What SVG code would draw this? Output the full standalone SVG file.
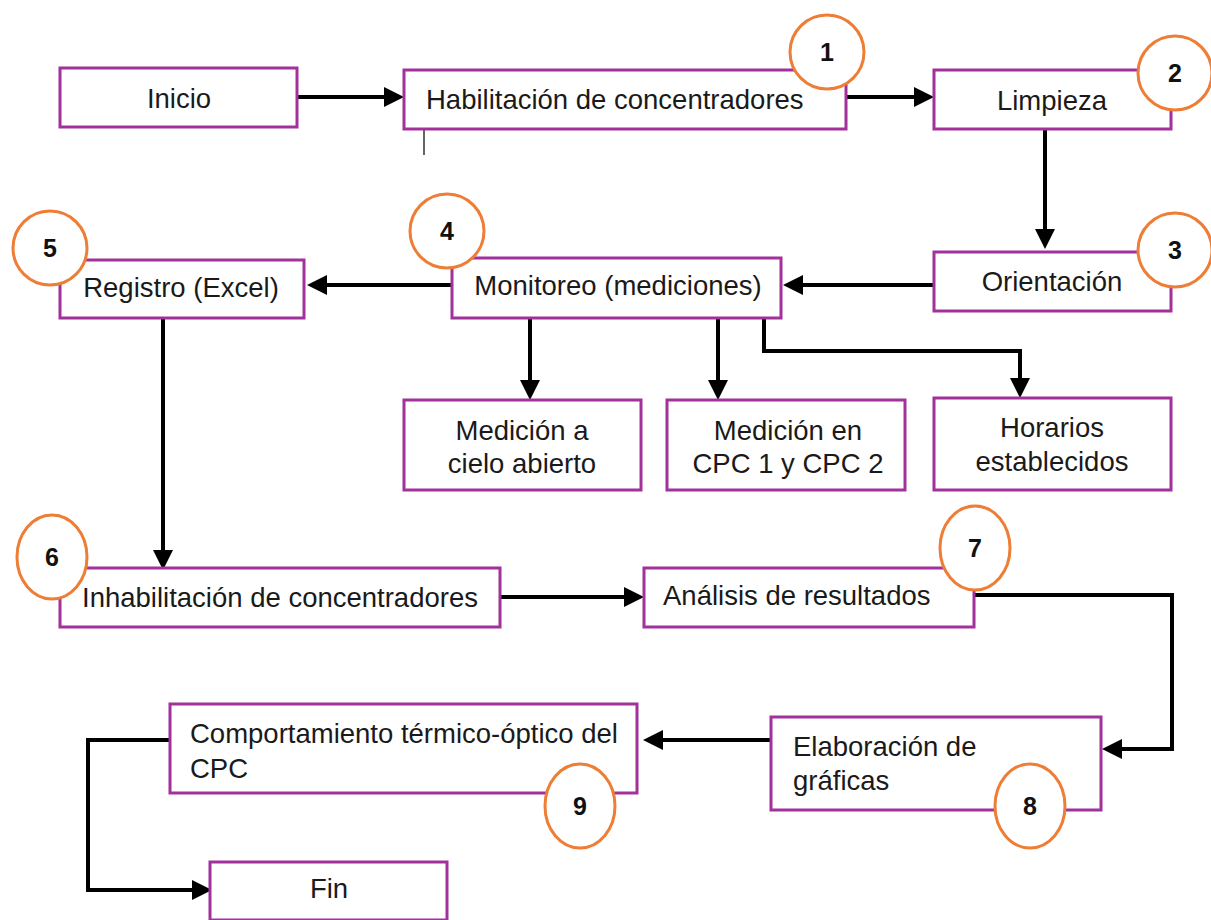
<svg xmlns="http://www.w3.org/2000/svg" width="1211" height="920" viewBox="0 0 1211 920">
<style>
.box{fill:#fff;stroke:#a2319c;stroke-width:3}
.t{font-family:"Liberation Sans",Arial,sans-serif;font-size:27.5px;fill:#1a1a1a}
.m{text-anchor:middle}
.c{fill:#fff;stroke:#ee7d35;stroke-width:3}
.n{font-family:"Liberation Sans",Arial,sans-serif;font-size:25px;font-weight:bold;fill:#111;text-anchor:middle}
.e{fill:none;stroke:#000;stroke-width:4;marker-end:url(#ah)}
</style>
<defs>
<marker id="ah" markerWidth="5" markerHeight="5" refX="4" refY="2.5" orient="auto" markerUnits="strokeWidth">
<path d="M0,0 L5,2.5 L0,5 Z" fill="#000"/>
</marker>
</defs>
<rect width="1211" height="920" fill="#fff"/>
<g id="connectors">
<path class="e" d="M297,97 H400"/>
<path class="e" d="M846,97 H930"/>
<path class="e" d="M1045,129 V245"/>
<path class="e" d="M934,285 H787"/>
<path class="e" d="M452,285 H311"/>
<path class="e" d="M530,318 V396"/>
<path class="e" d="M718,318 V396"/>
<path class="e" d="M764,318 V351 H1020 V394"/>
<path class="e" d="M163,318 V566"/>
<path class="e" d="M500,597 H640"/>
<path class="e" d="M974,595 H1172 V749 H1106"/>
<path class="e" d="M771,740 H647"/>
<path class="e" d="M170,740 H88 V890 H208"/>
<line x1="424" y1="123" x2="424" y2="155" stroke="#000" stroke-width="1.2"/>
</g>
<g id="inicio"><rect class="box" x="60" y="68" width="237" height="59"/><text class="t m" x="179" y="108">Inicio</text></g>
<g id="habilitacion"><rect class="box" x="404" y="70" width="442" height="59"/><text class="t" x="426" y="109">Habilitación de concentradores</text>
<circle class="c" cx="827" cy="52" r="37"/><text class="n" x="827" y="61">1</text></g>
<g id="limpieza"><rect class="box" x="934" y="70" width="237" height="59"/><text class="t m" x="1052" y="110">Limpieza</text>
<circle class="c" cx="1175" cy="73" r="37"/><text class="n" x="1175" y="82">2</text></g>
<g id="orientacion"><rect class="box" x="934" y="252" width="237" height="59"/><text class="t m" x="1052" y="291">Orientación</text>
<circle class="c" cx="1175" cy="250" r="37"/><text class="n" x="1175" y="259">3</text></g>
<g id="monitoreo"><rect class="box" x="452" y="258" width="329" height="60"/><text class="t m" x="618" y="295">Monitoreo (mediciones)</text>
<circle class="c" cx="447" cy="231" r="37"/><text class="n" x="447" y="240">4</text></g>
<g id="registro"><rect class="box" x="60" y="260" width="244" height="58"/><text class="t m" x="181" y="297">Registro (Excel)</text>
<circle class="c" cx="50" cy="248" r="37"/><text class="n" x="50" y="257">5</text></g>
<g id="medicion-cielo"><rect class="box" x="404" y="400" width="237" height="90"/><text class="t m" x="522" y="440">Medición a</text><text class="t m" x="522" y="473">cielo abierto</text></g>
<g id="medicion-cpc"><rect class="box" x="667" y="400" width="238" height="90"/><text class="t m" x="788" y="440">Medición en</text><text class="t m" x="788" y="473">CPC 1 y CPC 2</text></g>
<g id="horarios"><rect class="box" x="934" y="398" width="237" height="92"/><text class="t m" x="1052" y="437">Horarios</text><text class="t m" x="1052" y="471">establecidos</text></g>
<g id="inhabilitacion"><rect class="box" x="60" y="568" width="440" height="59"/><text class="t" x="82" y="607">Inhabilitación de concentradores</text>
<ellipse class="c" cx="52" cy="557" rx="35" ry="42"/><text class="n" x="52" y="566">6</text></g>
<g id="analisis"><rect class="box" x="644" y="568" width="330" height="59"/><text class="t" x="663" y="605">Análisis de resultados</text>
<ellipse class="c" cx="975" cy="548" rx="35" ry="42"/><text class="n" x="975" y="557">7</text></g>
<g id="elaboracion"><rect class="box" x="771" y="717" width="330" height="93"/><text class="t" x="793" y="756">Elaboración de</text><text class="t" x="793" y="790">gráficas</text>
<ellipse class="c" cx="1030" cy="806" rx="35" ry="42"/><text class="n" x="1030" y="815">8</text></g>
<g id="comportamiento"><rect class="box" x="170" y="704" width="467" height="89"/><text class="t" x="190" y="743">Comportamiento térmico-óptico del</text><text class="t" x="190" y="778">CPC</text>
<ellipse class="c" cx="580" cy="806" rx="35" ry="42"/><text class="n" x="580" y="815">9</text></g>
<g id="fin"><rect class="box" x="210" y="862" width="237" height="58"/><text class="t m" x="329" y="898">Fin</text></g>
</svg>
